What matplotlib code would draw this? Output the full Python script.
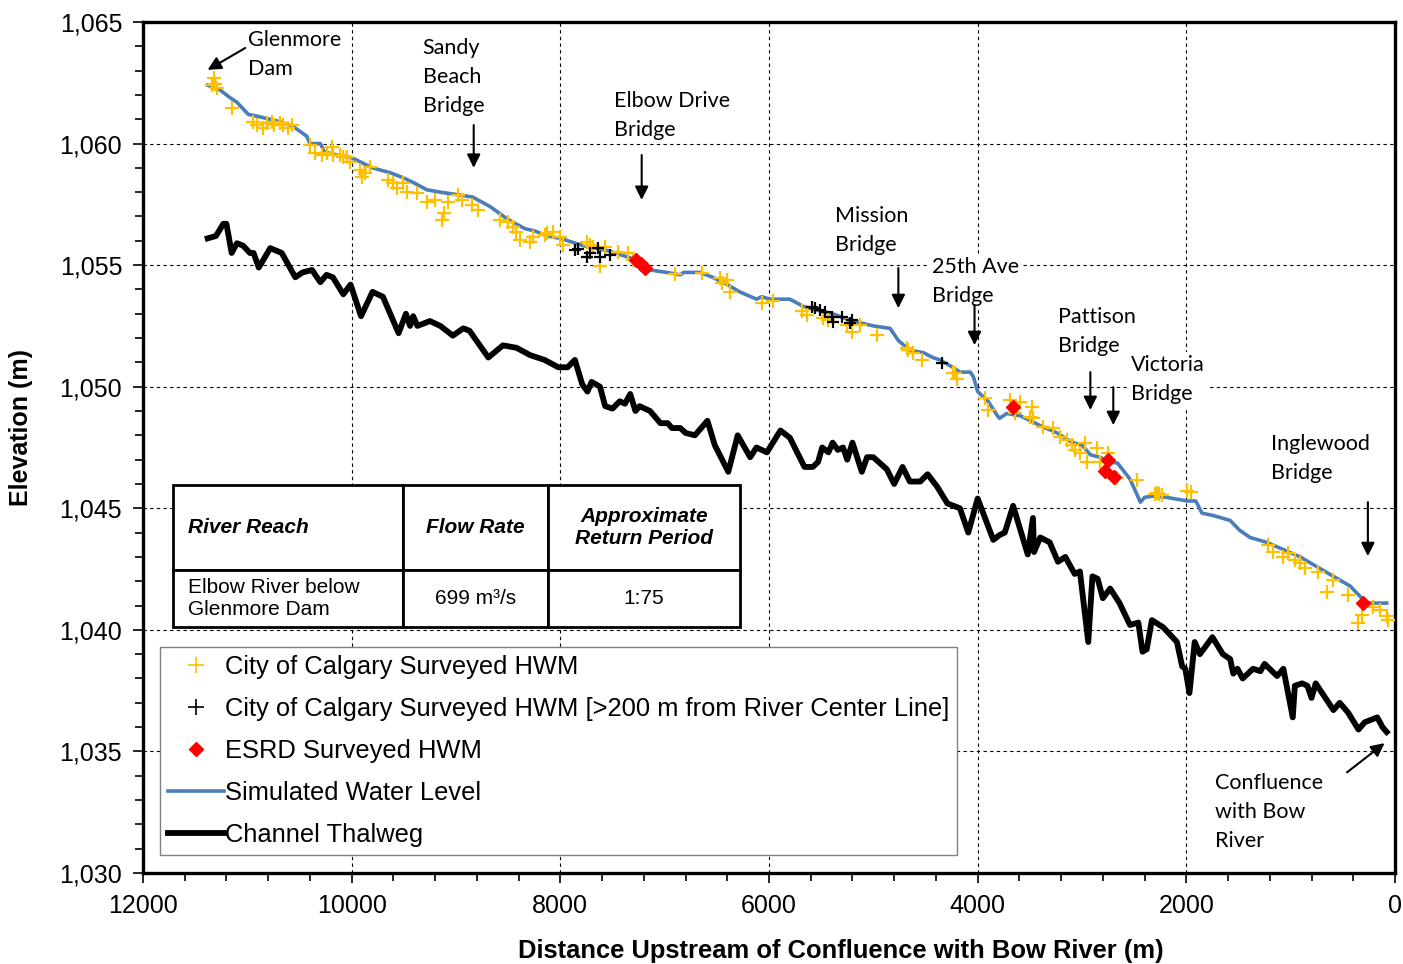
import matplotlib.pyplot as plt
from matplotlib.lines import Line2D
from matplotlib.ticker import FuncFormatter, MultipleLocator

# ---- data (distance upstream of confluence in m, elevation in m) ----
thalweg_x = [11380, 11300, 11230, 11200, 11150, 11100, 11040, 10975, 10940, 10890,
             10780, 10670, 10540, 10470, 10380, 10300, 10240, 10180, 10080, 10010,
             9910, 9800, 9700, 9550, 9480, 9440, 9410, 9370, 9250, 9150,
             9030, 8930, 8870, 8690, 8550, 8420, 8290, 8150, 8020, 7930,
             7860, 7790, 7740, 7700, 7620, 7570, 7500, 7430, 7380, 7330,
             7280, 7240, 7140, 7040, 6970, 6930, 6850, 6800, 6710, 6590,
             6520, 6390, 6300, 6180, 6120, 6020, 5890, 5800, 5660, 5580,
             5530, 5490, 5430, 5390, 5340, 5290, 5250, 5200, 5170, 5110,
             5060, 5000, 4870, 4800, 4720, 4650, 4550, 4480, 4390, 4290,
             4170, 4090, 4000, 3850, 3790, 3740, 3660, 3520, 3470, 3460,
             3400, 3310, 3230, 3160, 3070, 3020, 2940, 2900, 2850, 2800,
             2730, 2640, 2540, 2460, 2420, 2380, 2330, 2220, 2090, 2040,
             2010, 1970, 1920, 1870, 1750, 1650, 1580, 1550, 1510, 1460,
             1360, 1290, 1250, 1130, 1070, 980, 960, 890, 840, 800,
             760, 590, 530, 450, 350, 290, 170, 120, 80]
thalweg_y = [1056.1, 1056.2, 1056.7, 1056.7, 1055.5, 1055.9, 1055.8, 1055.5, 1055.5, 1054.9,
             1055.7, 1055.5, 1054.5, 1054.7, 1054.8, 1054.3, 1054.6, 1054.5, 1053.8, 1054.2,
             1052.9, 1053.9, 1053.7, 1052.2, 1053.0, 1052.5, 1052.9, 1052.5, 1052.7, 1052.5,
             1052.1, 1052.4, 1052.3, 1051.2, 1051.7, 1051.6, 1051.3, 1051.1, 1050.8, 1050.8,
             1051.1, 1050.1, 1049.8, 1050.2, 1050.0, 1049.2, 1049.1, 1049.4, 1049.3, 1049.7,
             1049.0, 1049.2, 1049.0, 1048.5, 1048.5, 1048.3, 1048.3, 1048.1, 1048.0, 1048.6,
             1047.6, 1046.5, 1048.0, 1047.1, 1047.5, 1047.3, 1048.2, 1047.9, 1046.7, 1046.7,
             1046.9, 1047.5, 1047.3, 1047.7, 1047.4, 1047.5, 1047.0, 1047.7, 1047.3, 1046.5,
             1047.1, 1047.1, 1046.6, 1046.0, 1046.7, 1046.1, 1046.1, 1046.4, 1045.9, 1045.2,
             1045.0, 1044.0, 1045.4, 1043.7, 1043.9, 1044.0, 1045.1, 1043.1, 1044.6, 1043.2,
             1043.8, 1043.6, 1042.8, 1043.0, 1042.3, 1042.4, 1039.5, 1042.2, 1042.1, 1041.3,
             1041.7, 1041.1, 1040.2, 1040.3, 1039.1, 1039.2, 1040.4, 1040.1, 1039.5, 1038.5,
             1038.4, 1037.4, 1039.5, 1039.0, 1039.7, 1039.0, 1038.8, 1038.2, 1038.4, 1038.0,
             1038.4, 1038.3, 1038.6, 1038.1, 1038.4, 1036.4, 1037.7, 1037.8, 1037.7, 1037.2,
             1037.8, 1036.7, 1037.0, 1036.6, 1035.9, 1036.2, 1036.4, 1036.0, 1035.8]

wsl_x = [11380, 11260, 11170, 11100, 10990, 10880, 10690, 10560, 10430, 10400,
         10300, 10260, 10110, 9990, 9800, 9630, 9510, 9410, 9280, 9150,
         8990, 8840, 8670, 8510, 8340, 8240, 8130, 8000, 7780, 7550,
         7330, 7240, 7140, 6980, 6850, 6820, 6660, 6540, 6400, 6280,
         6120, 6070, 5990, 5800, 5670, 5540, 5390, 5200, 5000, 4840,
         4760, 4650, 4520, 4430, 4360, 4240, 4170, 4070, 4040, 4000,
         3900, 3810, 3790, 3720, 3590, 3400, 3240, 3090, 3000, 2920,
         2830, 2730, 2660, 2540, 2440, 2400, 2320, 2190, 1990, 1910,
         1850, 1740, 1580, 1490, 1390, 1230, 1070, 910, 750, 590,
         430, 340, 270, 210, 80]
wsl_y = [1062.4, 1062.2, 1061.9, 1061.7, 1061.2, 1061.1, 1060.9, 1060.7, 1060.3, 1060.0,
         1060.0, 1059.65, 1059.5, 1059.4, 1059.0, 1058.8, 1058.6, 1058.4, 1058.1, 1058.0,
         1057.9, 1057.8, 1057.4, 1056.9, 1056.5, 1056.4, 1056.2, 1056.1, 1055.8, 1055.6,
         1055.3, 1055.1, 1054.8, 1054.7, 1054.6, 1054.7, 1054.7, 1054.5, 1054.2, 1053.9,
         1053.6, 1053.7, 1053.6, 1053.6, 1053.3, 1053.15, 1053.0, 1052.7, 1052.5, 1052.4,
         1051.9, 1051.5, 1051.4, 1051.2, 1051.1, 1050.8, 1050.6, 1050.6, 1050.4, 1049.8,
         1049.4, 1048.8, 1048.7, 1048.9, 1048.8, 1048.4, 1048.1, 1047.7, 1047.6, 1047.2,
         1047.1, 1046.9, 1046.86, 1046.2, 1045.25, 1045.45, 1045.5, 1045.45, 1045.3, 1045.3,
         1044.8, 1044.7, 1044.5, 1044.1, 1043.8, 1043.6, 1043.3, 1043.0, 1042.6, 1042.2,
         1041.8, 1041.4, 1041.1, 1041.1, 1041.1]

city_x = [11320, 11310, 11340, 11290, 11150, 10950, 10910, 10850, 10810, 10760,
          10740, 10690, 10660, 10610, 10570, 10400, 10350, 10280, 10240, 10190,
          10180, 10110, 10080, 10040, 10020, 9920, 9900, 9870, 9820, 9650,
          9600, 9570, 9510, 9470, 9370, 9280, 9200, 9080, 9110, 9130,
          8980, 8940, 8850, 8790, 8580, 8500, 8450, 8420, 8390, 8290,
          8260, 8130, 8070, 8150, 8000, 7970, 7740, 7720, 7690, 7620,
          7570, 7450, 7350, 7300, 6900, 6640, 6470, 6450, 6400, 6370,
          6070, 5960, 5680, 5640, 5480, 5430, 5250, 5200, 5130, 4960,
          4670, 4620, 4530, 4240, 4680, 4220, 4200, 3930, 3900, 3690,
          3640, 3590, 3480, 3500, 3470, 3370, 3280, 3210, 3140, 3100,
          3070, 3020, 2970, 2950, 2860, 2830, 2750, 2660, 2470, 2280,
          2230, 2300, 2260, 1960, 1990, 1220, 1170, 1070, 1030, 960,
          910, 860, 740, 650, 590, 450, 320, 350, 210, 140,
          80, 70]
city_y = [1062.70, 1062.45, 1062.41, 1062.28, 1061.46, 1060.89, 1060.76, 1060.64, 1060.84, 1060.89,
          1060.76, 1060.84, 1060.76, 1060.64, 1060.76, 1059.94, 1059.61, 1059.53, 1059.61, 1059.86,
          1059.53, 1059.53, 1059.45, 1059.45, 1059.24, 1058.91, 1058.62, 1058.79, 1059.03, 1058.50,
          1058.38, 1058.17, 1058.38, 1058.01, 1057.97, 1057.59, 1057.68, 1057.59, 1057.14, 1056.85,
          1057.88, 1057.68, 1057.47, 1057.27, 1056.85, 1056.77, 1056.57, 1056.36, 1056.03, 1055.95,
          1056.15, 1056.32, 1056.36, 1056.24, 1056.15, 1055.83, 1055.95, 1055.83, 1055.74, 1054.96,
          1055.74, 1055.54, 1055.50, 1055.21, 1054.63, 1054.67, 1054.47, 1054.26, 1054.39, 1053.89,
          1053.44, 1053.52, 1053.11, 1052.95, 1052.82, 1052.74, 1052.53, 1052.25, 1052.53, 1052.12,
          1051.51, 1051.38, 1051.09, 1050.56, 1051.59, 1050.56, 1050.31, 1049.53, 1049.04, 1049.45,
          1048.91, 1049.37, 1049.16, 1048.75, 1048.71, 1048.34, 1048.30, 1047.93, 1047.80, 1047.60,
          1047.39, 1047.27, 1047.68, 1046.90, 1047.47, 1046.90, 1047.27, 1046.24, 1046.16, 1045.62,
          1045.54, 1045.58, 1045.60, 1045.66, 1045.70, 1043.48, 1043.20, 1042.99, 1043.15, 1042.87,
          1042.74, 1042.54, 1042.37, 1041.55, 1042.04, 1041.43, 1040.60, 1040.27, 1040.93, 1040.81,
          1040.56, 1040.40]

far_x = [7860, 7830, 7720, 7740, 7640, 7620, 7520, 5590, 5560, 5510,
         5460, 5400, 5390, 5300, 5220, 5200, 4340]
far_y = [1055.62, 1055.66, 1055.50, 1055.33, 1055.70, 1055.33, 1055.41, 1053.28, 1053.23, 1053.15,
         1053.07, 1052.86, 1052.66, 1052.86, 1052.62, 1052.74, 1050.97]

esrd_x = [7270, 7230, 7190, 3660, 2750, 2780, 2690, 310]
esrd_y = [1055.21, 1055.04, 1054.88, 1049.16, 1046.98, 1046.53, 1046.28, 1041.10]

# annotation labels: text, text anchor (x, y), arrow tail, arrow head
notes = [
    ("Glenmore\nDam", (10990, 1063.66), (11020, 1063.93), (11380, 1063.03)),
    ("Sandy\nBeach\nBridge", (9320, 1062.74), (8830, 1060.76), (8830, 1059.0)),
    ("Elbow Drive\nBridge", (7490, 1061.15), (7220, 1059.53), (7220, 1057.68)),
    ("Mission\nBridge", (5370, 1056.42), (4760, 1054.88), (4760, 1053.23)),
    ("25th Ave\nBridge", (4440, 1054.32), (4030, 1053.36), (4030, 1051.71)),
    ("Pattison\nBridge", (3230, 1052.27), (2920, 1050.60), (2920, 1049.04)),
    ("Victoria\nBridge", (2530, 1050.29), (2700, 1049.98), (2700, 1048.42)),
    ("Inglewood\nBridge", (1190, 1047.04), (260, 1045.25), (260, 1043.03)),
    ("Confluence\nwith Bow\nRiver", (1730, 1032.5), (460, 1034.14), (100, 1035.34)),
]

table_rows = [["River Reach", "Flow Rate", "Approximate\nReturn Period"],
              ["Elbow River below\nGlenmore Dam", "699 m³/s", "1:75"]]

plt.rcParams['font.family'] = ['Liberation Sans', 'DejaVu Sans']

fig = plt.figure(figsize=(14.03, 9.64), dpi=100)
ax = fig.add_axes([0.1019, 0.0944, 0.8924, 0.8828])

ax.plot(thalweg_x, thalweg_y, color='black', lw=4.2, solid_joinstyle='round', zorder=3)
ax.plot(wsl_x, wsl_y, color='#4A7EBB', lw=2.6, zorder=4)
ax.plot(city_x, city_y, ls='none', marker='+', color='#FFC000', ms=10, mew=1.6, zorder=5)
ax.plot(far_x, far_y, ls='none', marker='+', color='black', ms=9, mew=1.6, zorder=6)
ax.plot(esrd_x, esrd_y, ls='none', marker='D', color='#FF0000', ms=7.5, zorder=7)

ax.set_xlim(12000, 0)
ax.set_ylim(1030, 1065)
ax.xaxis.set_major_locator(MultipleLocator(2000))
ax.xaxis.set_minor_locator(MultipleLocator(400))
ax.yaxis.set_major_locator(MultipleLocator(5))
ax.yaxis.set_minor_locator(MultipleLocator(1))
ax.yaxis.set_major_formatter(FuncFormatter(lambda v, p: f'{v:,.0f}'))
ax.tick_params(which='both', direction='out', width=1.2, labelsize=18)
ax.tick_params(which='major', length=7, pad=8)
ax.tick_params(which='minor', length=6)
ax.grid(True, which='major', color='black', ls=(0, (3, 3)), lw=0.8, zorder=0)
ax.set_axisbelow(True)
for s in ax.spines.values():
    s.set_linewidth(2.4)

ax.set_xlabel("Distance Upstream of Confluence with Bow River (m)", fontsize=18.4,
              fontweight='bold')
ax.xaxis.set_label_coords(0.557, -0.077)
ax.set_ylabel("Elevation (m)", fontsize=18, fontweight='bold')
ax.yaxis.set_label_coords(-0.088, 0.523)

for txt, pos, tail, head in notes:
    ax.text(pos[0], pos[1], txt, family='Lato', fontsize=15.5, ha='left', va='center',
            linespacing=1.55, zorder=8,
            bbox=dict(facecolor='white', edgecolor='none', pad=2))
    ax.annotate("", xy=head, xytext=tail, zorder=9,
                arrowprops=dict(arrowstyle='-|>', color='black', lw=1.5,
                                mutation_scale=20, shrinkA=0, shrinkB=0))

# flow table
tbl = ax.table(cellText=table_rows, cellLoc='center',
               colWidths=[230, 145, 192], bbox=[0.024, 0.289, 0.4529, 0.1669], zorder=10)
tbl.auto_set_font_size(False)
tbl.set_fontsize(15)
for (r, c), cell in tbl.get_celld().items():
    cell.set_linewidth(2)
    cell.set_height(85 if r == 0 else 57)
    cell.set_facecolor('white')
    if r == 0:
        cell.get_text().set_fontweight('bold')
        cell.get_text().set_fontstyle('italic')
    if c == 0:
        cell.PAD = 0.065
        cell.get_text().set_horizontalalignment('left')
        cell.get_text().set_multialignment('left')

handles = [
    Line2D([], [], ls='none', marker='+', color='#FFC000', ms=12, mew=1.2),
    Line2D([], [], ls='none', marker='+', color='black', ms=12, mew=1.2),
    Line2D([], [], ls='none', marker='D', color='#FF0000', ms=7),
    Line2D([], [], color='#4A7EBB', lw=2.6),
    Line2D([], [], color='black', lw=4.2),
]
labels = ["City of Calgary Surveyed HWM",
          "City of Calgary Surveyed HWM [>200 m from River Center Line]",
          "ESRD Surveyed HWM", "Simulated Water Level", "Channel Thalweg"]
leg = ax.legend(handles, labels, loc='lower left', bbox_to_anchor=(0.0136, 0.0212),
                fontsize=18.4, frameon=True, fancybox=False, framealpha=1,
                edgecolor='#808080', handlelength=2.2, handletextpad=0.05,
                labelspacing=0.71, borderpad=0.3, borderaxespad=0)
leg.get_frame().set_linewidth(1)
leg.set_zorder(10)

fig.savefig('out.png', dpi=100)
